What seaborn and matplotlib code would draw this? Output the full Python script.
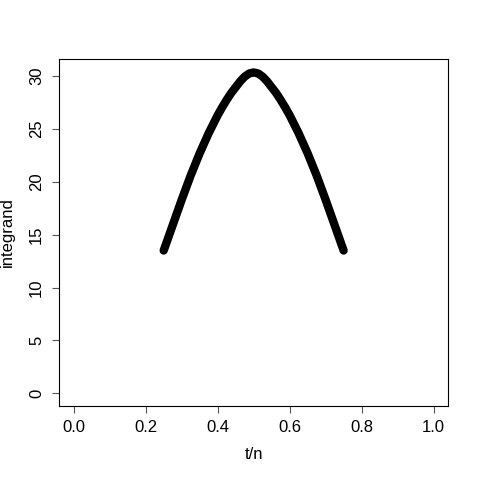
import numpy as np
import pandas as pd
import matplotlib
matplotlib.use('Agg')
import matplotlib.pyplot as plt
import seaborn as sns

# values (symmetric around t/n = 0.5)
t_over_n = [0.250, 0.275, 0.300, 0.325, 0.350, 0.375, 0.400, 0.4125, 0.425, 0.4375,
            0.450, 0.4625, 0.475, 0.4875, 0.500, 0.5125, 0.525, 0.5375, 0.550, 0.5625,
            0.575, 0.5875, 0.600, 0.625, 0.650, 0.675, 0.700, 0.725, 0.750]
integrand = [13.5, 15.9, 18.3, 20.6, 22.7, 24.6, 26.3, 27.05, 27.75, 28.4,
             28.95, 29.5, 29.95, 30.25, 30.35, 30.25, 29.95, 29.5, 28.95, 28.4,
             27.75, 27.05, 26.3, 24.6, 22.7, 20.6, 18.3, 15.9, 13.5]
x_ticks = [0.0, 0.2, 0.4, 0.6, 0.8, 1.0]
y_ticks = [0, 5, 10, 15, 20, 25, 30]

df = pd.DataFrame({'t/n': t_over_n, 'integrand': integrand})

sns.set_style('white')
plt.rcParams['font.family'] = ['Liberation Sans', 'DejaVu Sans']

fig = plt.figure(figsize=(4.8, 4.8), dpi=100)
ax = fig.add_axes([0.1236, 0.154, 0.8097, 0.723])

sns.lineplot(data=df, x='t/n', y='integrand', color='black', linewidth=6,
             solid_capstyle='round', solid_joinstyle='round', ax=ax)

ax.set_xlim(-0.04, 1.04)
ax.set_ylim(-1.216, 31.616)
ax.set_xticks(x_ticks)
ax.set_xticklabels(['%.1f' % v for v in x_ticks])
ax.set_yticks(y_ticks)
ax.set_yticklabels([str(v) for v in y_ticks], rotation=90, va='center')

for s in ax.spines.values():
    s.set_visible(True)
    s.set_color('black')
    s.set_linewidth(0.8)
ax.tick_params(axis='both', direction='out', length=5, width=0.8, color='#555555',
               labelsize=12, labelcolor='black', bottom=True, left=True)
ax.tick_params(axis='x', pad=5)
ax.tick_params(axis='y', pad=6)

ax.set_xlabel('t/n', fontsize=12, color='black')
ax.set_ylabel('integrand', fontsize=12, color='black')
ax.xaxis.set_label_coords(0.5, -0.118)
ax.yaxis.set_label_coords(-0.114, 0.5)

fig.savefig('out.png', dpi=100)
